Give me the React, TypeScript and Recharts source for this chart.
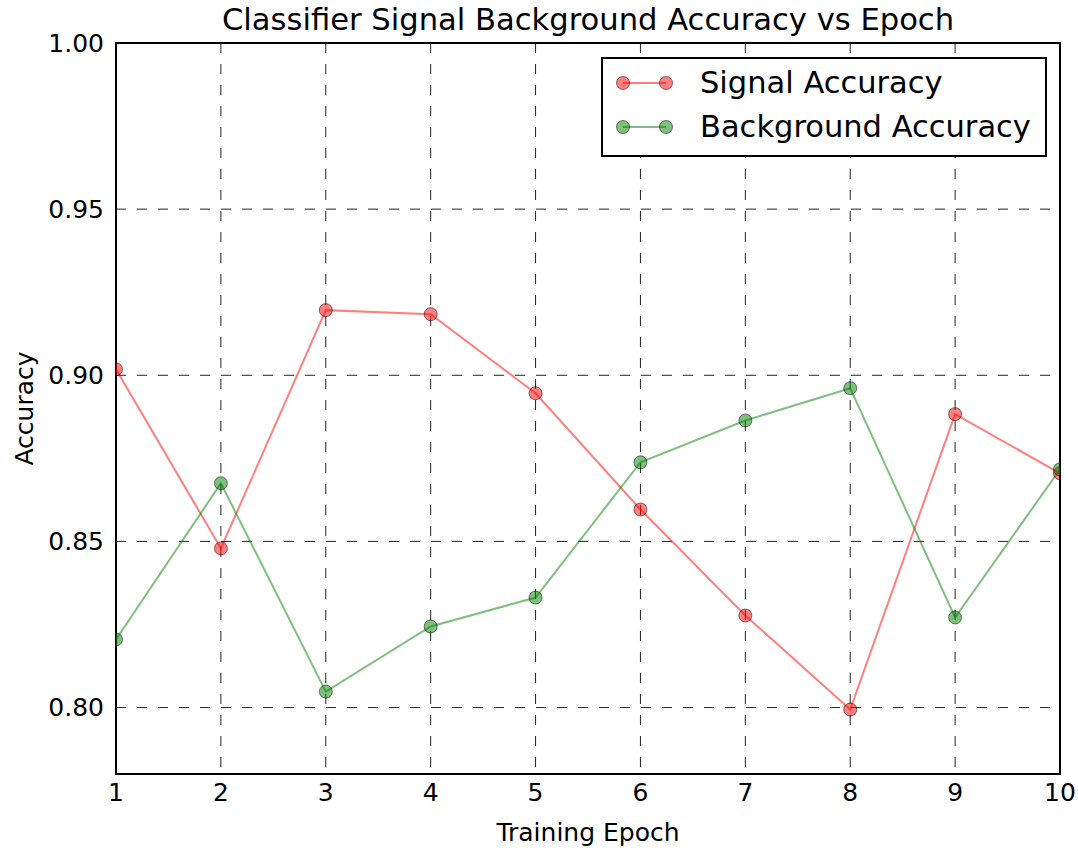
import { LineChart, Line, XAxis, YAxis, CartesianGrid, ReferenceArea, Label } from "recharts";

const epochs = [1, 2, 3, 4, 5, 6, 7, 8, 9, 10];
const signalAccuracy = [0.9018, 0.8479, 0.9196, 0.9184, 0.8946, 0.8596, 0.8277, 0.7994, 0.8883, 0.8705];
const backgroundAccuracy = [0.8205, 0.8675, 0.8048, 0.8244, 0.8331, 0.8738, 0.8864, 0.8961, 0.8271, 0.8717];
const yTicks = [0.8, 0.85, 0.9, 0.95, 1.0];

const FONT = "'DejaVu Sans', sans-serif";

const SERIES = [
  { key: "signal", name: "Signal Accuracy", line: "rgba(255,0,0,0.5)", fill: "rgba(255,0,0,0.5)" },
  { key: "background", name: "Background Accuracy", line: "rgba(0,128,0,0.5)", fill: "rgba(0,128,0,0.5)" },
];

const data = epochs.map((e, i) => ({
  epoch: e,
  signal: signalAccuracy[i],
  background: backgroundAccuracy[i],
}));

const XLabel = (props: any) => {
  const vb = props.viewBox;
  return (
    <text x={vb.x + vb.width / 2} y={841} textAnchor="middle" fontSize={25} fontFamily={FONT} fill="#000">
      Training Epoch
    </text>
  );
};

const YLabel = (props: any) => {
  const vb = props.viewBox;
  const cy = vb.y + vb.height / 2;
  return (
    <text x={33} y={cy} textAnchor="middle" fontSize={25} fontFamily={FONT} fill="#000" transform={`rotate(-90, 33, ${cy})`}>
      Accuracy
    </text>
  );
};

// markers get clipped to the axes box like matplotlib does
const makeDot = (fill: string) => (props: any) => {
  const { cx, cy, index } = props;
  if (cx == null || cy == null) return <g key={index} />;
  return (
    <circle
      key={index}
      cx={cx}
      cy={cy}
      r={6.5}
      fill={fill}
      stroke="rgba(0,0,0,0.5)"
      strokeWidth={1}
      clipPath="url(#axesClip)"
    />
  );
};

export default function App() {
  return (
    <div style={{ position: "absolute", left: 0, top: 0, width: 1078, height: 850, background: "#fff" }}>
      <LineChart width={1078} height={850} data={data} margin={{ top: 43, right: 18, bottom: 0, left: 0 }}>
        <CartesianGrid stroke="#222" strokeWidth={1} strokeDasharray="10 11" />
        <XAxis
          dataKey="epoch"
          type="number"
          domain={[1, 10]}
          ticks={epochs}
          allowDataOverflow
          height={76}
          axisLine={false}
          tickLine={false}
          tickSize={0}
          tickMargin={9}
          tick={{ fontSize: 25, fontFamily: FONT, fill: "#000" }}
        >
          <Label content={XLabel} />
        </XAxis>
        <YAxis
          type="number"
          domain={[0.78, 1.0]}
          ticks={yTicks}
          allowDataOverflow
          width={116}
          axisLine={false}
          tickLine={false}
          tickSize={0}
          tickMargin={12}
          tickFormatter={(v: number) => v.toFixed(2)}
          tick={{ fontSize: 25, fontFamily: FONT, fill: "#000" }}
        >
          <Label content={YLabel} />
        </YAxis>
        {SERIES.map((s) => (
          <Line
            key={s.key}
            dataKey={s.key}
            name={s.name}
            stroke={s.line}
            strokeWidth={2}
            dot={makeDot(s.fill)}
            activeDot={false}
            isAnimationActive={false}
          />
        ))}
        <ReferenceArea x1={1} x2={10} y1={0.78} y2={1.0} fill="none" stroke="#000" strokeWidth={2} ifOverflow="visible" />
      </LineChart>
      <svg width={1078} height={850} style={{ position: "absolute", left: 0, top: 0, pointerEvents: "none" }}>
        <defs>
          <clipPath id="axesClip">
            <rect x={116} y={43} width={944} height={731} />
          </clipPath>
        </defs>
        <text x={588} y={30} textAnchor="middle" fontSize={30.6} fontFamily={FONT} fill="#000">
          Classifier Signal Background Accuracy vs Epoch
        </text>
        <rect x={602} y={58} width={444} height={98} fill="#fff" stroke="#000" strokeWidth={2} />
        {SERIES.map((s, i) => {
          const cy = 83 + i * 44;
          return (
            <g key={s.key}>
              <line x1={623} x2={666} y1={cy} y2={cy} stroke={s.line} strokeWidth={2} />
              <circle cx={623} cy={cy} r={6.5} fill={s.fill} stroke="rgba(0,0,0,0.5)" strokeWidth={1} />
              <circle cx={666} cy={cy} r={6.5} fill={s.fill} stroke="rgba(0,0,0,0.5)" strokeWidth={1} />
              <text x={700} y={cy + 10} fontSize={30.5} fontFamily={FONT} fill="#000">
                {s.name}
              </text>
            </g>
          );
        })}
      </svg>
    </div>
  );
}
